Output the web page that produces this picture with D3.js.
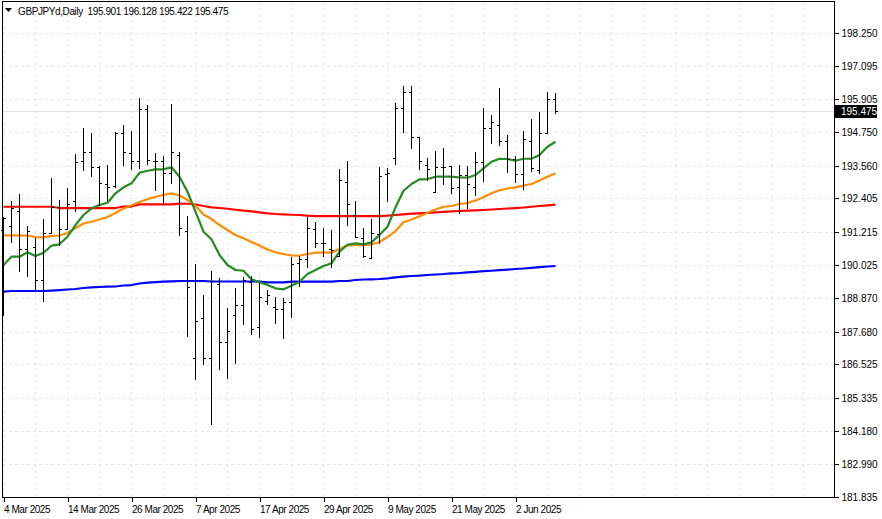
<!DOCTYPE html>
<html><head><meta charset="utf-8">
<script src="https://cdn.jsdelivr.net/npm/d3@7"></script>
<style>
body{margin:0;background:#fff;}
svg{display:block;font-family:"Liberation Sans",Arial,sans-serif;}
</style></head><body>
<svg id="c" width="882" height="519"></svg>
<script>
// ---- data ----
const symbolTitle = "GBPJPYd,Daily";
const lastOHLC = [195.901, 196.128, 195.422, 195.475];
const tickLabels = ["4 Mar 2025","14 Mar 2025","26 Mar 2025","7 Apr 2025","17 Apr 2025","29 Apr 2025","9 May 2025","21 May 2025","2 Jun 2025"];
const tickBars = [0, 8, 16, 24, 32, 40, 48, 56, 64];
const priceTicks = [198.250,197.095,195.905,194.750,193.560,192.405,191.215,190.025,188.870,187.680,186.525,185.335,184.180,182.990,181.835];

const open = [191.280,191.421,191.970,190.597,190.689,189.511,191.185,192.104,191.305,192.306,
193.721,194.050,193.498,192.908,192.826,194.701,194.015,193.739,195.550,193.721,
193.721,193.307,193.934,191.234,186.751,188.156,186.762,189.370,187.307,188.262,
188.616,189.451,187.838,188.768,188.566,188.485,188.743,190.123,190.243,191.305,
190.810,190.608,190.360,192.968,191.811,190.986,190.279,191.128,193.251,193.817,
195.586,196.173,194.560,193.580,192.614,193.498,193.544,192.791,193.226,192.812,
193.696,194.878,194.995,194.440,193.792,193.251,194.440,193.403,194.723,195.901];
const high = [191.751,192.306,192.543,191.421,191.008,191.659,193.109,192.341,192.755,193.958,
194.878,194.701,193.544,193.580,194.730,194.995,194.783,195.940,195.703,194.004,
193.909,195.738,194.040,191.776,190.077,188.980,189.829,189.571,188.531,189.217,
189.628,189.663,189.394,189.157,188.899,188.864,190.336,190.371,191.751,191.574,
191.340,191.280,193.428,193.721,192.306,191.340,191.659,193.498,193.463,195.763,
196.375,196.375,194.560,193.817,194.075,194.171,193.544,193.580,193.555,194.050,
195.586,195.349,196.293,194.641,193.898,194.783,195.197,195.444,196.152,196.128];
const low = [188.273,190.866,189.829,189.663,189.157,188.779,191.185,190.750,191.305,191.952,
193.403,193.191,192.165,192.341,192.801,193.580,193.438,193.463,193.615,192.695,
192.200,192.954,191.103,187.530,185.998,186.539,184.406,186.373,186.054,186.585,
187.944,187.590,187.484,188.662,188.000,187.470,188.213,189.299,189.982,190.668,
190.371,189.982,190.360,191.475,191.022,190.314,190.279,190.810,192.317,193.605,
194.758,194.192,193.428,193.049,192.614,192.897,192.579,191.882,192.069,192.518,
193.024,194.348,194.287,193.343,192.989,192.720,193.385,193.286,194.723,195.422];
const close = [191.705,192.058,190.597,191.255,189.511,191.185,192.104,191.305,192.189,193.696,
194.050,193.498,192.932,192.801,194.701,194.029,193.739,195.550,193.757,193.721,
193.307,194.050,191.340,189.274,188.071,186.762,189.476,187.307,187.717,188.616,
189.511,187.777,188.899,188.980,188.474,188.743,190.077,190.243,191.351,190.810,
190.810,190.590,193.049,192.200,191.050,190.360,191.164,193.201,193.286,195.586,
196.173,194.560,193.721,193.428,193.498,193.498,192.755,193.226,192.908,193.696,
194.878,195.091,194.440,193.792,193.251,194.500,193.463,194.723,195.904,195.475];

const maGreen = [190.042,190.336,190.336,190.491,190.360,190.477,190.725,190.774,191.043,191.457,
191.811,192.047,192.164,192.246,192.578,192.791,192.932,193.307,193.378,193.428,
193.428,193.498,193.166,192.635,191.928,191.220,190.951,190.395,190.042,189.865,
189.840,189.536,189.430,189.334,189.217,189.182,189.310,189.451,189.724,189.865,
190.006,190.102,190.512,190.760,190.810,190.774,190.845,191.103,191.397,192.083,
192.670,192.907,193.073,193.084,193.166,193.166,193.166,193.138,193.131,193.226,
193.463,193.696,193.802,193.792,193.732,193.802,193.802,193.933,194.226,194.403];
const maOrange = [191.092,191.092,191.092,191.085,191.032,191.022,191.068,191.085,191.174,191.351,
191.510,191.574,191.652,191.740,191.882,192.041,192.147,192.270,192.366,192.458,
192.518,192.578,192.500,192.341,192.129,191.828,191.669,191.457,191.280,191.103,
190.986,190.855,190.731,190.590,190.491,190.431,190.378,190.371,190.431,190.477,
190.477,190.477,190.608,190.738,190.749,190.749,190.767,190.855,191.032,191.244,
191.552,191.652,191.765,191.892,192.005,192.104,192.129,192.200,192.235,192.323,
192.437,192.578,192.684,192.748,192.790,192.854,192.907,193.031,193.166,193.286];
const maRed = [192.104,192.104,192.104,192.104,192.104,192.104,192.104,192.058,192.058,192.058,
192.058,192.058,192.058,192.058,192.058,192.111,192.111,192.189,192.189,192.189,
192.189,192.189,192.217,192.210,192.182,192.129,192.083,192.058,192.033,191.998,
191.963,191.942,191.906,191.871,191.846,191.836,191.821,191.811,191.786,191.775,
191.775,191.775,191.775,191.775,191.775,191.775,191.775,191.775,191.786,191.811,
191.836,191.857,191.871,191.889,191.906,191.924,191.942,191.953,191.963,191.977,
191.988,192.005,192.023,192.041,192.058,192.076,192.104,192.129,192.154,192.175];
const maBlue = [189.104,189.122,189.122,189.122,189.122,189.122,189.139,189.157,189.175,189.193,
189.228,189.253,189.264,189.274,189.281,189.317,189.334,189.387,189.416,189.440,
189.451,189.465,189.476,189.476,189.476,189.476,189.458,189.458,189.458,189.458,
189.458,189.458,189.458,189.430,189.430,189.430,189.451,189.451,189.451,189.451,
189.451,189.451,189.476,189.476,189.511,189.529,189.536,189.547,189.572,189.607,
189.628,189.653,189.664,189.688,189.706,189.724,189.749,189.759,189.784,189.802,
189.823,189.840,189.858,189.876,189.900,189.918,189.943,189.964,189.989,190.007];

// ---- layout ----
const frame = {l: 2.5, r: 834.5, t: 1.5, b: 497.5};
const svg = d3.select("#c");
const x = d3.scaleLinear().domain([0, 1]).range([3.5, 11.5]);      // bar index -> px (8px per bar)
const y = d3.scaleLinear().domain([181.835, 198.25]).range([497, 33]);
const sy = v => Math.round(y(v)) + 0.5;
const n = close.length;
const lastBarIdx = Math.floor(x.invert(frame.r));

// grid
const grid = svg.append("g").attr("stroke", "#e6e6e6").attr("stroke-dasharray", "3,3").attr("shape-rendering", "crispEdges");
priceTicks.forEach(p => {
  grid.append("line").attr("x1", frame.l).attr("x2", frame.r).attr("y1", sy(p)).attr("y2", sy(p));
});
d3.range(0, lastBarIdx + 1, 4).forEach(i => {
  grid.append("line").attr("x1", x(i)).attr("x2", x(i)).attr("y1", frame.t).attr("y2", frame.b);
});
// last price line
svg.append("line").attr("x1", frame.l).attr("x2", frame.r)
  .attr("y1", sy(lastOHLC[3])).attr("y2", sy(lastOHLC[3]))
  .attr("stroke", "#e0e0e0").attr("shape-rendering", "crispEdges");

// moving averages
const line = d3.line().x((d, i) => x(i)).y(d => y(d));
[[maBlue, "#0000ff"], [maRed, "#ff0000"], [maOrange, "#ff8c00"], [maGreen, "#228b22"]].forEach(([arr, col]) => {
  svg.append("path").datum(arr).attr("d", line).attr("fill", "none")
    .attr("stroke", col).attr("stroke-width", 2.2).attr("stroke-linejoin", "round");
});

// OHLC bars
const bars = svg.append("g").attr("stroke", "#000").attr("stroke-width", 1).attr("shape-rendering", "crispEdges");
d3.range(n).forEach(i => {
  const cx = x(i);
  bars.append("line").attr("x1", cx).attr("x2", cx).attr("y1", Math.round(y(high[i]))).attr("y2", Math.round(y(low[i])) + 1);
  bars.append("line").attr("x1", cx - 2.5).attr("x2", cx + 0.5).attr("y1", sy(open[i])).attr("y2", sy(open[i]));
  bars.append("line").attr("x1", cx - 0.5).attr("x2", cx + 2.5).attr("y1", sy(close[i])).attr("y2", sy(close[i]));
});

// frame
svg.append("rect").attr("x", frame.l).attr("y", frame.t).attr("width", frame.r - frame.l).attr("height", frame.b - frame.t)
  .attr("fill", "none").attr("stroke", "#000").attr("shape-rendering", "crispEdges");

// right price axis
const yAxis = d3.axisRight(y).tickValues(priceTicks).tickFormat(d3.format(".3f")).tickSize(4).tickPadding(3);
const ya = svg.append("g").attr("transform", `translate(${frame.r},0)`).call(yAxis);
ya.select(".domain").remove();
ya.selectAll(".tick").attr("transform", d => `translate(0,${sy(d)})`);
ya.selectAll("text").attr("font-size", 10).attr("font-family", "Liberation Sans, Arial, sans-serif").attr("fill", "#000");
ya.selectAll("line").attr("stroke", "#000").attr("shape-rendering", "crispEdges");

// last price box
const ly = y(lastOHLC[3]);
svg.append("rect").attr("x", frame.r + 0.5).attr("y", Math.round(ly) - 6).attr("width", 42).attr("height", 13).attr("fill", "#000");
svg.append("text").attr("x", 841).attr("y", ly).attr("dy", "0.35em").attr("font-size", 10).attr("fill", "#fff")
  .text(d3.format(".3f")(lastOHLC[3]));

// bottom time axis
const xAxis = d3.axisBottom(x).tickValues(tickBars).tickFormat((d, i) => tickLabels[i]).tickSize(4).tickPadding(4);
const xa = svg.append("g").attr("transform", `translate(0,${frame.b})`).call(xAxis);
xa.select(".domain").remove();
xa.selectAll("text").attr("text-anchor", "start").attr("dx", "0").attr("font-size", 10).attr("letter-spacing", "-0.45")
  .attr("font-family", "Liberation Sans, Arial, sans-serif").attr("fill", "#000");
xa.selectAll("line").attr("stroke", "#000").attr("shape-rendering", "crispEdges");

// header
svg.append("path").attr("d", "M5,8L12,8L8.5,12Z").attr("fill", "#000");
svg.append("text").attr("x", 18).attr("y", 15).attr("font-size", 10).attr("fill", "#000").attr("letter-spacing", "-0.4")
  .attr("xml:space", "preserve").style("white-space", "pre")
  .text(symbolTitle + "  " + lastOHLC.map(d3.format(".3f")).join(" "));
</script>
</body></html>
